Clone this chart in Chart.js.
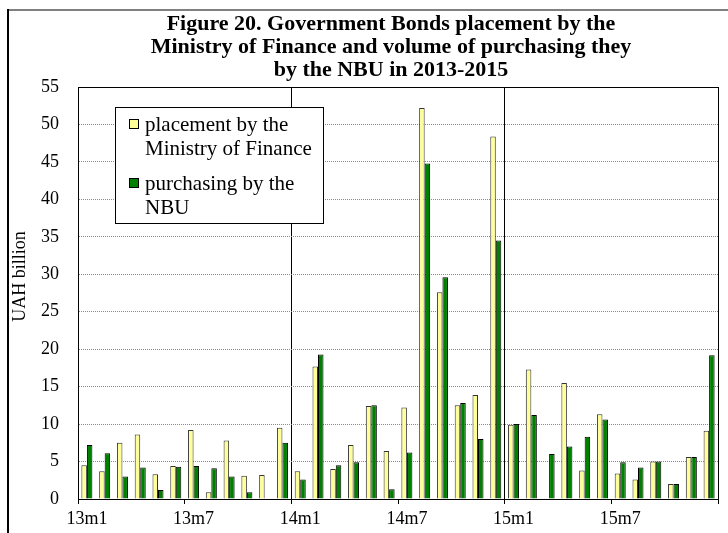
<!DOCTYPE html>
<html><head><meta charset="utf-8">
<script src="https://cdn.jsdelivr.net/npm/chart.js@4/dist/chart.umd.min.js"></script>
<style>html,body{margin:0;padding:0;background:#fff}#wrap{width:728px;height:533px}</style>
</head><body><div id="wrap"><canvas id="c" width="728" height="533"></canvas></div>
<script>
const categories = ['13m1','13m2','13m3','13m4','13m5','13m6','13m7','13m8','13m9','13m10','13m11','13m12',
  '14m1','14m2','14m3','14m4','14m5','14m6','14m7','14m8','14m9','14m10','14m11','14m12',
  '15m1','15m2','15m3','15m4','15m5','15m6','15m7','15m8','15m9','15m10','15m11','15m12'];
const placementMinFin = [4.5,3.7,7.5,8.6,3.3,4.4,9.2,0.9,7.8,3.1,3.2,9.5,
  3.7,17.7,4.0,7.2,12.4,6.4,12.2,52.2,27.6,12.5,13.9,48.4,
  9.9,17.3,0,15.5,3.8,11.3,3.4,2.6,5.0,2.0,5.6,9.1];
const purchasingNBU = [7.2,6.1,3.0,4.2,1.2,4.3,4.4,4.1,3.0,0.9,0,7.5,
  2.6,19.3,4.5,4.9,12.5,1.3,6.2,44.8,29.6,12.8,8.0,34.5,
  10.0,11.2,6.0,7.0,8.3,10.6,4.9,4.2,5.0,2.0,5.6,19.2];
const tickLabels = ['13m1','13m7','14m1','14m7','15m1','15m7'];
const yTicks = [0,5,10,15,20,25,30,35,40,45,50,55];
const titleLines = ['Figure 20. Government Bonds placement by the','Ministry of Finance and volume of purchasing they','by the NBU in 2013-2015'];
const yTitle = 'UAH billion';
const seriesLabels = [['placement by the','Ministry of Finance'],['purchasing by the','NBU']];
const yearStarts = ['14m1','15m1'];

const FONT = "'Liberation Serif', 'Times New Roman', serif";
Chart.defaults.font.family = FONT;
Chart.defaults.color = '#000';

const framePlugin = {
  id: 'frame',
  beforeDraw(chart) {
    const ctx = chart.ctx;
    ctx.save();
    ctx.fillStyle = '#fff';
    ctx.fillRect(0, 0, chart.width, chart.height);
    ctx.strokeStyle = '#808080'; ctx.lineWidth = 2;
    ctx.beginPath(); ctx.moveTo(8, 10); ctx.lineTo(chart.width, 10); ctx.stroke();
    ctx.strokeStyle = '#000'; ctx.lineWidth = 2;
    ctx.beginPath(); ctx.moveTo(8, 9); ctx.lineTo(8, chart.height); ctx.stroke();
    ctx.restore();
  }
};
const titlePlugin = {
  id: 'figTitle',
  afterDraw(chart) {
    const {ctx, chartArea: a} = chart;
    ctx.save();
    ctx.fillStyle = '#000';
    ctx.font = "bold 22px " + FONT;
    ctx.textAlign = 'center';
    ctx.textBaseline = 'alphabetic';
    const cx = (a.left + a.right) / 2 - 7;
    titleLines.forEach((t, i) => ctx.fillText(t, cx, 30 + i * 23));
    // y axis title
    ctx.font = "18px " + FONT;
    ctx.translate(20, a.top + (a.bottom - a.top) * 0.46);
    ctx.rotate(-Math.PI / 2);
    ctx.textBaseline = 'middle';
    ctx.fillText(yTitle, 0, 0);
    ctx.restore();
  }
};
const boxPlugin = {
  id: 'box',
  afterDatasetsDraw(chart) {
    const {ctx, chartArea: a} = chart;
    ctx.save();
    ctx.strokeStyle = '#000'; ctx.lineWidth = 1;
    ctx.strokeRect(Math.round(a.left) + 0.5, Math.round(a.top) + 0.5, Math.round(a.right - a.left), Math.round(a.bottom - a.top));
    ctx.restore();
  }
};
const legendPlugin = {
  id: 'boxLegend',
  afterDatasetsDraw(chart) {
    const {ctx, chartArea: a} = chart;
    const x = Math.round(a.left) + 37, y = Math.round(a.top) + 20, w = 208, h = 116;
    ctx.save();
    ctx.fillStyle = '#fff'; ctx.fillRect(x, y, w, h);
    ctx.strokeStyle = '#000'; ctx.lineWidth = 1; ctx.strokeRect(x + 0.5, y + 0.5, w, h);
    ctx.font = "21px " + FONT;
    ctx.textBaseline = 'alphabetic';
    ctx.textAlign = 'left';
    chart.data.datasets.forEach((ds, i) => {
      const top = y + 12 + i * 59;
      ctx.fillStyle = ds.backgroundColor;
      ctx.fillRect(x + 14, top, 10, 10);
      ctx.strokeStyle = '#000';
      ctx.strokeRect(x + 14.5, top + 0.5, 9, 9);
      ctx.fillStyle = '#000';
      ds.legendLines.forEach((t, j) => ctx.fillText(t, x + 30, top + 12 + j * 24));
    });
    ctx.restore();
  }
};

new Chart(document.getElementById('c'), {
  type: 'bar',
  data: {
    labels: categories,
    datasets: [
      { label: seriesLabels[0].join(' '), legendLines: seriesLabels[0], data: placementMinFin,
        backgroundColor: '#FFFF99', borderColor: '#333', borderWidth: 1, borderSkipped: 'start',
        categoryPercentage: 0.62, barPercentage: 1.0 },
      { label: seriesLabels[1].join(' '), legendLines: seriesLabels[1], data: purchasingNBU,
        backgroundColor: '#008000', borderColor: '#000', borderWidth: 1, borderSkipped: 'start',
        categoryPercentage: 0.62, barPercentage: 1.0 }
    ]
  },
  options: {
    responsive: false,
    animation: false,
    devicePixelRatio: 1,
    layout: { padding: { left: 8, right: 10, top: 87, bottom: 0 } },
    plugins: {
      legend: { display: false },
      tooltip: { enabled: false },
      title: { display: false }
    },
    scales: {
      x: {
        offset: true,
        grid: {
          offset: true,
          lineWidth: 1,
          color: c => (c.index !== undefined && yearStarts.includes(categories[c.index])) ? '#000' : 'rgba(0,0,0,0)',
          tickColor: c => (c.index === undefined || tickLabels.includes(categories[c.index])) ? '#000' : 'rgba(0,0,0,0)',
          tickLength: 5
        },
        border: { color: '#000', width: 1 },
        ticks: {
          autoSkip: false, maxRotation: 0, minRotation: 0, padding: 4,
          font: { size: 18 }, color: '#000',
          callback: (v, i) => tickLabels.includes(categories[i]) ? categories[i] : ''
        },
        afterFit: s => { s.height = 34; }
      },
      y: {
        min: 0, max: 55,
        afterBuildTicks: s => { s.ticks = yTicks.map(v => ({ value: v })); },
        grid: { drawTicks: false, color: '#8a8a8a', lineWidth: 1 },
        border: { color: '#000', width: 1, dash: [1, 1] },
        ticks: { padding: 19, font: { size: 18 }, color: '#000' },
        title: { display: false },
        afterFit: s => { s.width = 70; }
      }
    }
  },
  plugins: [framePlugin, boxPlugin, legendPlugin, titlePlugin]
});
</script>
</body></html>
